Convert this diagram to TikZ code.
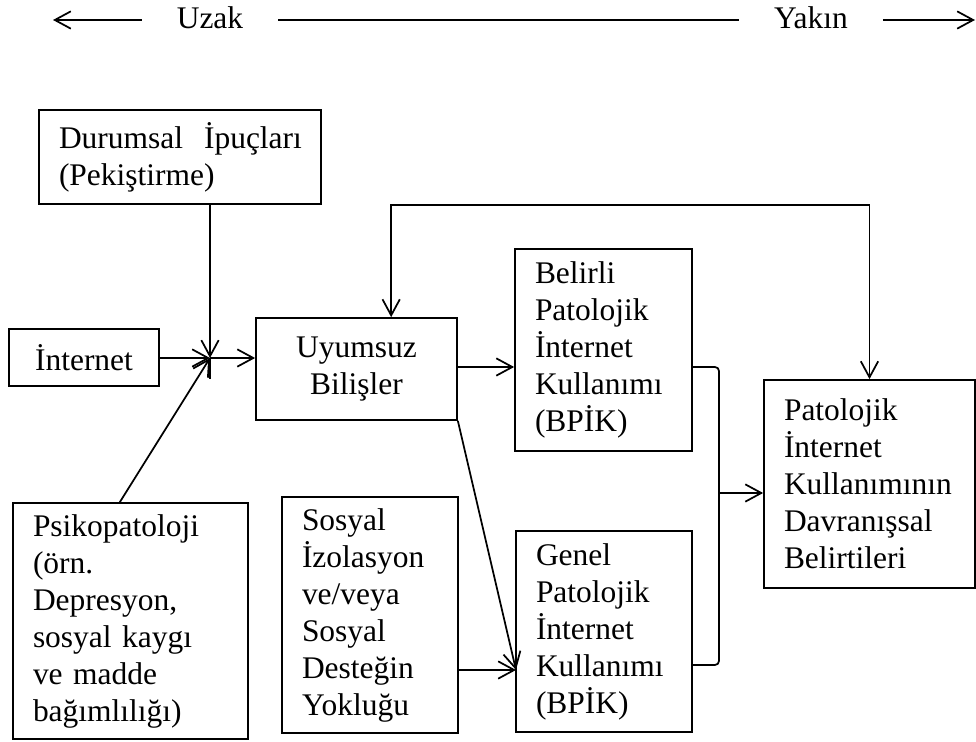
\documentclass[tikz,border=0pt]{standalone}
\usepackage{fontspec}
\setmainfont{Liberation Serif}
\usepackage{tikz}
\usetikzlibrary{positioning, arrows.meta, calc}

\begin{document}
\begin{tikzpicture}[
  x=0.75pt, y=-0.75pt,
  kutu/.style={rectangle, draw, line width=1.3pt, align=left, inner xsep=15pt, inner ysep=0pt, font=\fontsize{23.6}{27.75}\selectfont},
  ortakutu/.style={kutu, align=center},
  yazi/.style={inner xsep=26pt, inner ysep=2pt, font=\fontsize{23.6}{27.75}\selectfont},
  ok/.style={-{Straight Barb[length=12pt, width=13pt]}, line width=1.3pt},
  cizgi/.style={line width=1.3pt}
]
\useasboundingbox (0,0) rectangle (976,742);

% Top: distance scale
\node[yazi] (uzak) at (210,18) {Uzak};
\node[yazi] (yakin) at (811,18) {Yakın};
\coordinate (solu) at (53,20);
\coordinate (sagu) at (975,20);
\draw[ok] (uzak.west |- solu) -- (solu);
\draw[cizgi] (uzak.east |- solu) -- (yakin.west |- solu);
\draw[ok] (yakin.east |- sagu) -- (sagu);

% Left column
\node[kutu, text width=181.5pt, minimum height=70.5pt] (durumsal) at (180,157) {Durumsal~~İpuçları\\(Pekiştirme)};
\node[ortakutu, text width=82.5pt, minimum height=42.75pt] (internet) at (84,357.5) {İnternet};
\node[kutu, text width=146.25pt, minimum height=177pt] (psiko) at (130.5,621) {Psikopatoloji\\(örn.\\Depresyon,\\sosyal kaygı\\ve madde\\bağımlılığı)};

% Middle column
\node[ortakutu, text width=120.75pt, minimum height=76.5pt] (uyumsuz) at (356.5,369) {Uyumsuz\\Bilişler};
\node[kutu, text width=102pt, minimum height=177pt] (sosyal) at (370,615) {Sosyal\\İzolasyon\\ve/veya\\Sosyal\\Desteğin\\Yokluğu};

% BPIK boxes
\node[kutu, text width=102.75pt, minimum height=151.5pt] (belirli) at (603.5,350) {Belirli\\Patolojik\\İnternet\\Kullanımı\\(BPİK)};
\node[kutu, text width=102pt, minimum height=150.75pt] (genel) at (604,631.5) {Genel\\Patolojik\\İnternet\\Kullanımı\\(BPİK)};

% Outcome
\node[kutu, text width=128.25pt, minimum height=156pt] (belirti) at (869.5,484) {Patolojik\\İnternet\\Kullanımının\\Davranışsal\\Belirtileri};

% Junction of the distal causes
\coordinate (j) at (210,358);
\coordinate (jalt) at (210,379);
\draw[ok] (durumsal.south -| j) -- (j);
\draw[cizgi] (j) -- (jalt);
\draw[ok] (internet.east |- j) -- (j);
\draw[ok] ([xshift=-8pt]psiko.north) -- (j);
\draw[ok] (j) -- (j -| uyumsuz.west);

% Feedback loop
\coordinate (ust) at (600,205);
\draw[ok, {Straight Barb[length=12pt, width=13pt]}-{Straight Barb[length=12pt, width=13pt]}] ([xshift=26pt]uyumsuz.north) |- (ust) -| (belirti.north);

% Proximal paths
\draw[ok] (uyumsuz.east |- 0,367) -- (belirli.west |- 0,367);
\coordinate (gir) at (516,670);
\draw[ok] (uyumsuz.south east) -- (gir);
\draw[ok] (sosyal.east |- gir) -- (gir);

% Bracket into outcome
\coordinate (kb) at (719,493);
\draw[cizgi, rounded corners=3pt] (belirli.east |- 0,367) -| (kb) |- (genel.east |- 0,665);
\draw[ok] (kb) -- (kb -| belirti.west);

\end{tikzpicture}
\end{document}
